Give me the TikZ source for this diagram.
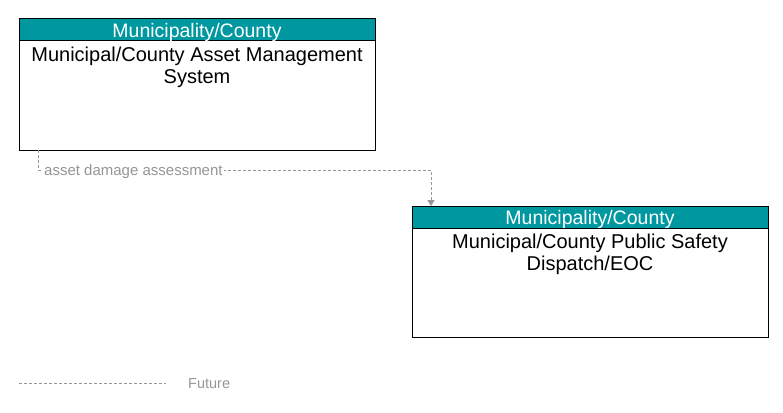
\documentclass[tikz,border=0pt]{standalone}
\usepackage{fontspec}
\setmainfont{Liberation Sans}
\usetikzlibrary{arrows.meta}
\definecolor{hdr}{RGB}{0,152,160}
\definecolor{flowgray}{RGB}{150,150,150}
\definecolor{labgray}{RGB}{150,150,150}
\tikzset{
  x=1pt,y=-1pt,
  boxbody/.style={draw=black,line width=1pt,fill=white},
  boxhead/.style={draw=black,line width=1pt,fill=hdr},
  headtext/.style={text=white,font=\fontsize{19.5}{21}\selectfont,anchor=center,inner sep=0},
  bodytext/.style={text=black,font=\fontsize{20}{22}\selectfont,align=center,anchor=north,inner sep=0},
  flow/.style={draw=flowgray,line width=0.8pt,dash pattern=on 3pt off 2pt},
  flowlabel/.style={text=labgray,font=\fontsize{15}{17}\selectfont,fill=white,inner sep=1pt,anchor=west}
}
\begin{document}
\begin{tikzpicture}
\useasboundingbox (0,0) rectangle (783,412);
% box 1
\draw[boxbody] (19,19) rectangle (375,150);
\draw[boxhead] (19,19) rectangle (375,41);
\node[headtext] (h1) at (197,32) {Municipality/County};
\node[bodytext] (b1) at (197,46.5) {Municipal/County Asset Management\\System};
\coordinate (s1) at (38,150);
% box 2
\draw[boxbody] (412,206) rectangle (768,337);
\draw[boxhead] (412,206) rectangle (768,228);
\node[headtext] (h2) at (590,219) {Municipality/County};
\node[bodytext] (b2) at (590,233.5) {Municipal/County Public Safety\\Dispatch/EOC};
\coordinate (t2) at (431,206);
% connector
\coordinate (c1) at (38,170);
\coordinate (c2) at (431,170);
\draw[flow,-{Triangle[length=6pt,width=7pt]}] (s1) -- (c1) -- (c2) -- (t2);
\node[flowlabel] (lab) at (43,171.5) {asset damage assessment};
% legend
\coordinate (l1) at (19,383);
\coordinate (l2) at (166,383);
\draw[flow] (l1) -- (l2);
\node[text=labgray,font=\fontsize{14.5}{16}\selectfont,anchor=west,inner sep=0] (fut) at (188,384) {Future};
\end{tikzpicture}
\end{document}
